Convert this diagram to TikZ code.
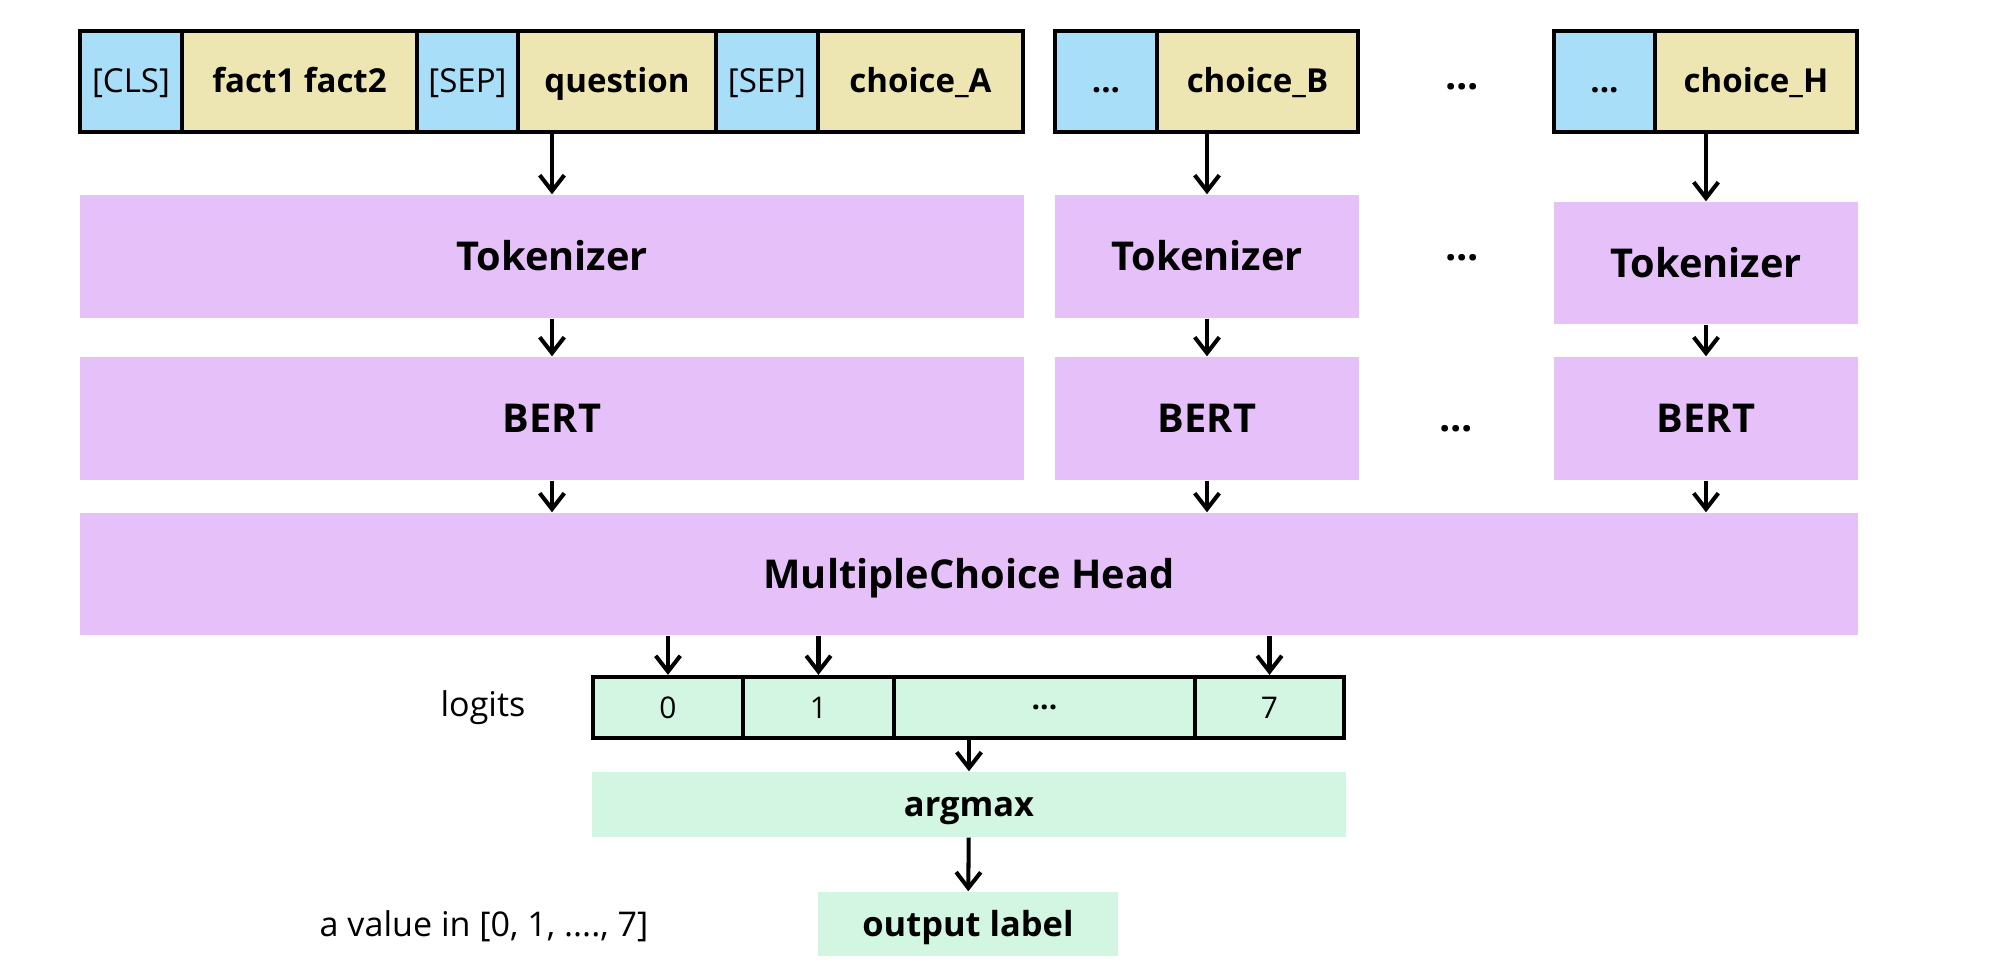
\documentclass[tikz,border=0pt]{standalone}
\usepackage{fontspec}
\setmainfont{Open Sans}
\usetikzlibrary{arrows.meta}

\definecolor{sepblue}{RGB}{169,222,249}
\definecolor{textbeige}{RGB}{237,230,178}
\definecolor{layerlilac}{RGB}{229,192,249}
\definecolor{outmint}{RGB}{210,246,226}

\tikzset{
  cell/.style={draw=black,line width=1.2pt,inner sep=0pt,minimum height=1.01cm,
    text height=1.6ex,text depth=.45ex},
  special/.style={cell,fill=sepblue,font=\fontsize{9.4}{11}\selectfont},
  segment/.style={cell,fill=textbeige,font=\fontsize{9.4}{11}\selectfont\bfseries},
  layer/.style={fill=layerlilac,inner sep=0pt,minimum height=1.23cm,
    text height=8.1pt,text depth=0pt,font=\fontsize{11.3}{13}\selectfont\bfseries},
  logit/.style={draw=black,line width=1.2pt,fill=outmint,inner sep=0pt,
    minimum height=.61cm,font=\fontsize{8.5}{10}\selectfont},
  result/.style={fill=outmint,inner sep=0pt,text height=7pt,text depth=0pt,
    font=\fontsize{9.8}{12}\selectfont\bfseries},
  gap/.style={inner sep=0pt,font=\fontsize{11.3}{13}\selectfont\bfseries},
  note/.style={inner sep=0pt,font=\fontsize{9.7}{12}\selectfont},
  arr/.style={line width=1.15pt,-{Straight Barb[length=4.5pt,width=7pt]}}
}

\begin{document}
\begin{tikzpicture}
\useasboundingbox (0,0) rectangle (20,-9.77);

% the input sequences
\foreach \n/\x/\w/\t in {cls/1.31/1.02/{[CLS]},sepa/4.675/1.01/{[SEP]},
  sepb/7.67/1.02/{[SEP]}}
  \node[special,minimum width=\w cm] (\n) at (\x,-0.815) {\t};
\node[special,minimum width=1.02cm,font=\fontsize{9.4}{11}\selectfont\bfseries] (dotsB) at (11.06,-0.815) {...};
\node[special,minimum width=1.01cm,font=\fontsize{9.4}{11}\selectfont\bfseries] (dotsH) at (16.045,-0.815) {...};
\foreach \n/\x/\w/\t in {fact/2.995/2.35/{fact1 fact2},quest/6.17/1.98/{question},
  chA/9.205/2.05/{choice\_A},chB/12.575/2.01/{choice\_B},chH/17.56/2.02/{choice\_H}}
  \node[segment,minimum width=\w cm] (\n) at (\x,-0.815) {\t};

% tokenizers and encoders
\node[layer,minimum width=9.44cm] (tokA) at (5.52,-2.565) {Tokenizer};
\node[layer,minimum width=3.04cm] (tokB) at (12.07,-2.565) {Tokenizer};
\node[layer,minimum width=3.04cm,minimum height=1.22cm] (tokH) at (17.06,-2.63) {Tokenizer};
\foreach \c/\x/\w in {A/5.52/9.44,B/12.07/3.04,H/17.06/3.04}
  \node[layer,minimum width=\w cm] (bert\c) at (\x,-4.185) {BERT};

% the head
\node[layer,minimum width=17.78cm,minimum height=1.22cm] (head) at (9.69,-5.74) {MultipleChoice Head};

% the dots between the columns
\node[gap] (gapin) at (14.62,-0.87) {...};
\node[gap] (gaptok) at (14.62,-2.58) {...};
\node[gap] (gapbert) at (14.56,-4.29) {...};

% logits, argmax and output
\foreach \n/\x/\w/\t in {l0/6.68/1.50/0,l1/8.185/1.51/1,l2/10.445/3.01/{\bfseries...},l7/12.695/1.49/7}
  \node[logit,minimum width=\w cm] (\n) at (\x,-7.075) {\t};
\node[result,minimum width=7.54cm,minimum height=.65cm] (argmax) at (9.69,-8.045) {argmax};
\node[result,minimum width=3.00cm,minimum height=.64cm] (outlabel) at (9.68,-9.24) {output label};
\node[note] (logitsnote) at (4.83,-7.08) {logits};
\node[note] (valuenote) at (4.84,-9.26) {a value in [0, 1, ...., 7]};

% arrows
\foreach \c/\s in {A/cls,B/chB,H/chH}
{
  \draw[arr] (tok\c.north |- \s.south) -- (tok\c.north);
  \draw[arr] (tok\c) -- (bert\c);
  \draw[arr] (bert\c) -- (bert\c |- head.north);
}
\foreach \n in {l0,l1,l7}
  \draw[arr] (\n |- head.south) -- (\n);
\draw[arr] (argmax |- l2.south) -- (argmax);
\draw[arr] (argmax) -- (outlabel);
\end{tikzpicture}
\end{document}
